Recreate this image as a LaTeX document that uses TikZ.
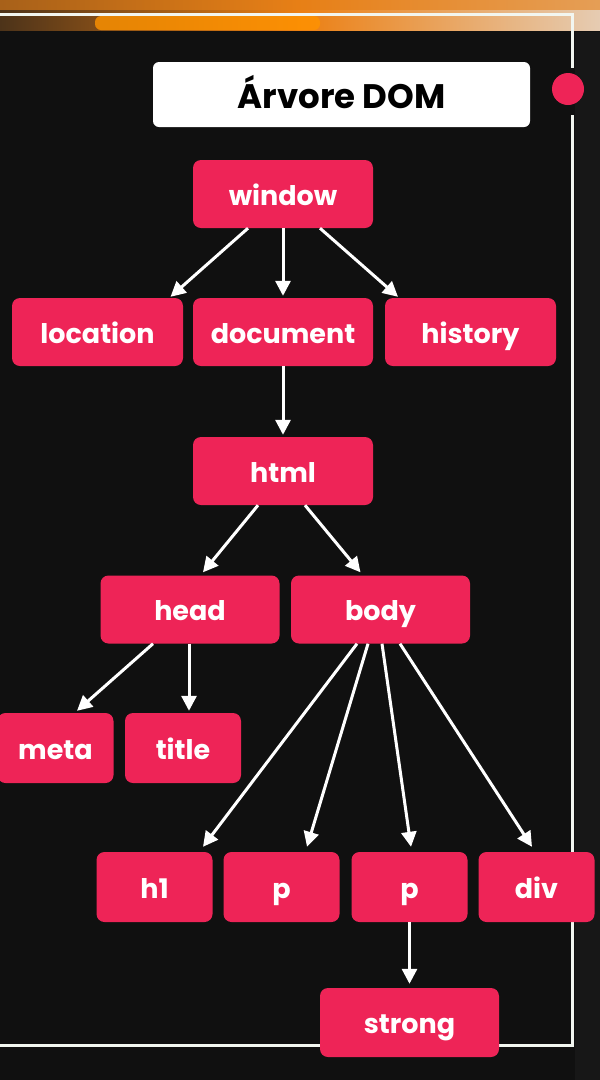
\documentclass[tikz,border=0pt]{standalone}
\usepackage{fontspec}
\setmainfont{Poppins}
\usetikzlibrary{arrows.meta}
\definecolor{bg}{HTML}{101010}
\definecolor{sidebg}{HTML}{171717}
\definecolor{nodered}{HTML}{EE2457}
\definecolor{framecol}{HTML}{F2F6F0}
\tikzset{
  domnode/.style={rectangle, rounded corners=8pt, fill=nodered, text=white,
    font=\fontsize{27}{30}\selectfont\bfseries, minimum height=68pt, inner sep=0pt,
    text height=22pt, text depth=0pt},
  wide/.style={domnode, minimum width=180pt},
  mid/.style={domnode, minimum width=171pt},
  small/.style={domnode, minimum width=116pt, minimum height=70pt},
  conn/.style={draw=white, line width=3pt, -{Triangle[length=15pt,width=15pt]}},
  frameline/.style={draw=framecol, line width=3pt}
}
\begin{document}
\begin{tikzpicture}[x=1pt,y=-1pt]
\useasboundingbox (0,0) rectangle (600,1080);
% background
\fill[bg] (0,0) rectangle (600,1080);
\fill[sidebg] (575,32) rectangle (600,1080);
% top blurred strip
\shade[left color=black!60!brown, right color=brown!40!white, middle color=orange!70!brown] (0,0) rectangle (600,30);
\fill[orange!85!yellow, opacity=0.8, rounded corners=6pt] (95,16) rectangle (320,30);
\fill[orange!60!brown, opacity=0.6] (0,0) rectangle (600,10);
% frame
\draw[frameline] (0,14) -- (572,14) -- (572,68);
\draw[frameline] (572,115) -- (572,1045) -- (0,1045);
% title
\node[rectangle, rounded corners=6pt, fill=white, minimum width=377pt, minimum height=65pt,
  font=\fontsize{34}{36}\selectfont\bfseries, text=black, inner sep=0pt,
  text height=27pt, text depth=0pt] (ttl) at (341.5,94.5) {Árvore DOM};
\node[circle, fill=nodered, minimum size=32pt, inner sep=0pt] (dot) at (568,89) {};
% nodes
\node[wide] (window) at (283,194) {window};
\node[mid] (location) at (97.5,332) {location};
\node[wide] (document) at (283,332) {document};
\node[mid] (history) at (470.5,332) {history};
\node[wide] (html) at (283,471) {html};
\node[wide, minimum width=179pt] (head) at (190,609.5) {head};
\node[wide, minimum width=179pt] (body) at (380.5,609.5) {body};
\node[small] (meta) at (55.5,748) {meta};
\node[small] (title) at (183,748) {title};
\node[small] (h1) at (154.5,887) {h1};
\node[small] (p1) at (281.5,887) {p};
\node[small] (p2) at (409.5,887) {p};
\node[small] (div) at (536.5,887) {div};
\node[wide, minimum width=179pt, minimum height=69pt] (strong) at (409.5,1022.5) {strong};
% connectors
\draw[conn] ([xshift=-35pt]window.south) -- ([xshift=73pt,yshift=1pt]location.north);
\draw[conn] (window.south) -- ([yshift=2pt]document.north);
\draw[conn] ([xshift=37pt]window.south) -- ([xshift=-72.5pt,yshift=1pt]history.north);
\draw[conn] (document.south) -- ([yshift=2pt]html.north);
\draw[conn] ([xshift=-25pt]html.south) -- ([xshift=13pt,yshift=3pt]head.north);
\draw[conn] ([xshift=22pt]html.south) -- ([xshift=-20pt,yshift=3pt]body.north);
\draw[conn] ([xshift=-37pt]head.south) -- ([xshift=21.5pt,yshift=2pt]meta.north);
\draw[conn] ([xshift=-1pt]head.south) -- ([xshift=6pt,yshift=2pt]title.north);
\draw[conn] ([xshift=-23.5pt]body.south) -- ([xshift=48.5pt,yshift=5pt]h1.north);
\draw[conn] ([xshift=-12.5pt]body.south) -- ([xshift=25.5pt,yshift=5pt]p1.north);
\draw[conn] ([xshift=1.5pt]body.south) -- ([xshift=1.5pt,yshift=5pt]p2.north);
\draw[conn] ([xshift=19.5pt]body.south) -- ([xshift=-4.5pt,yshift=5pt]div.north);
\draw[conn] (p2.south) -- ([yshift=4pt]strong.north);
\end{tikzpicture}
\end{document}
